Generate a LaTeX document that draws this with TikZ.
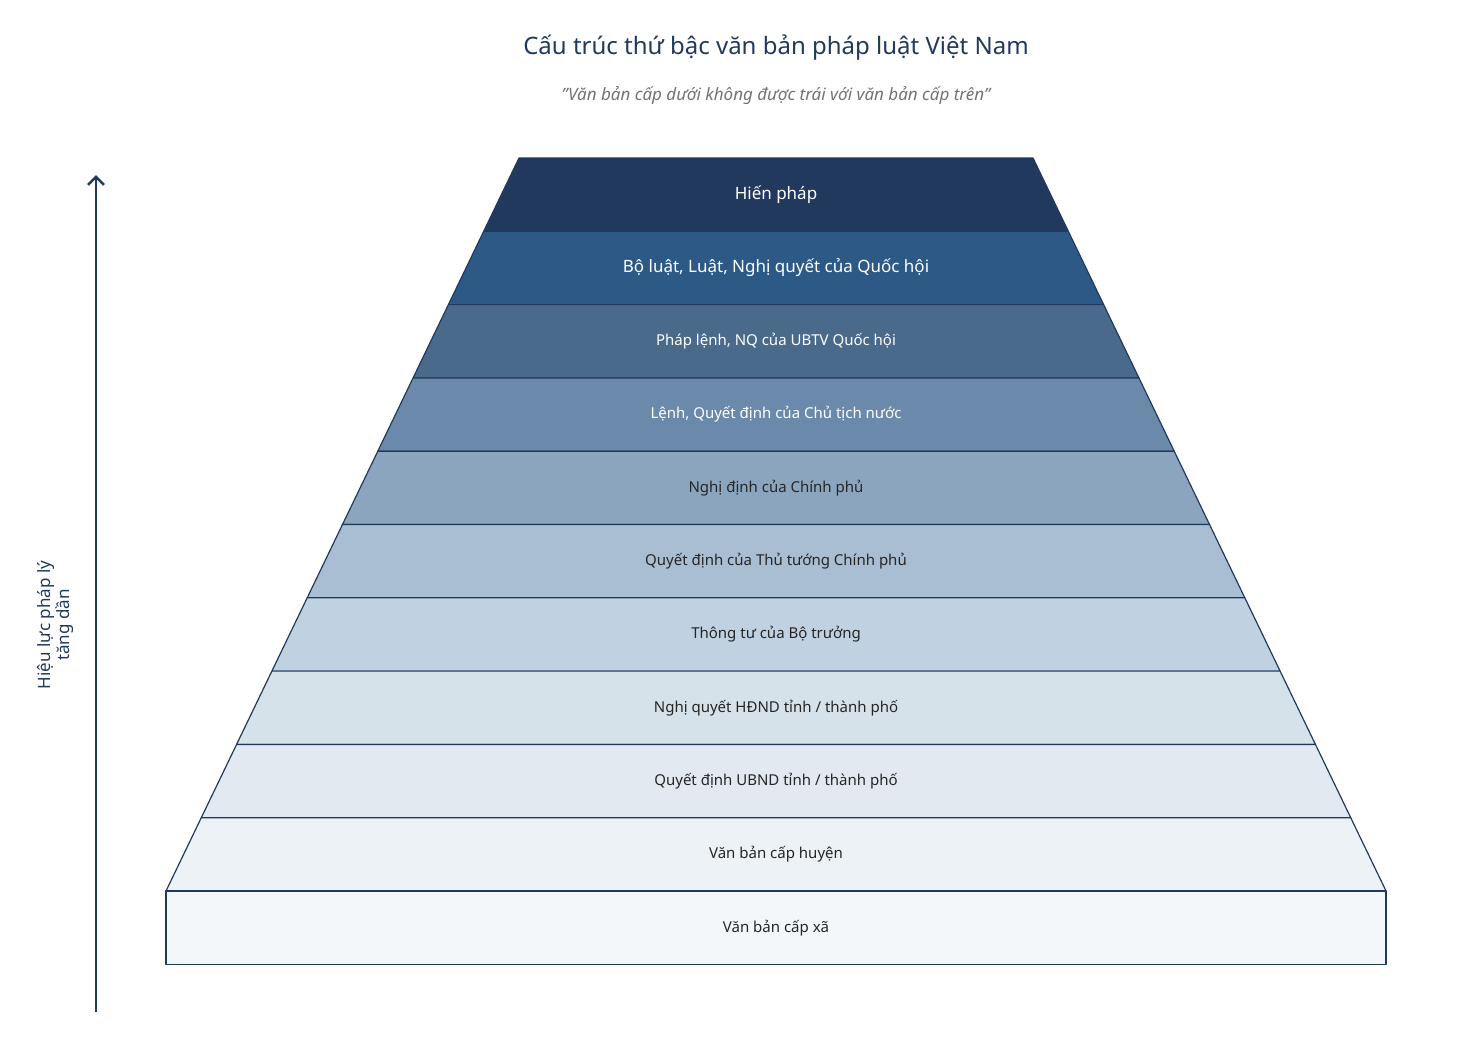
\documentclass[tikz,border=0pt]{standalone}
\usepackage{fontspec}
\setmainfont{Noto Sans}
\usetikzlibrary{arrows.meta}
\definecolor{navy}{HTML}{22395E}
\tikzset{
  layer/.style={draw=navy, line width=1.2pt, line join=round},
  lbl/.style={font=\fontsize{15}{18}\selectfont, text=#1},
  ttl/.style={font=\bfseries\fontsize{24}{28}\selectfont, text=navy},
}
\begin{document}
\begin{tikzpicture}[x=1pt,y=-1pt]
  \useasboundingbox (0,0) rectangle (1458,1044);
  \node[ttl] (title) at (776,48) {Cấu trúc thứ bậc văn bản pháp luật Việt Nam};
  \node[font=\itshape\fontsize{17}{20}\selectfont, text=black!55] (sub) at (776,96)
    {"Văn bản cấp dưới không được trái với văn bản cấp trên"};
  % layers, top to bottom
  \foreach \i/\fc/\tc/\txt in {
      0/22395E/white/{\bfseries\fontsize{17}{20}\selectfont Hiến pháp},
      1/2D5986/white/{\bfseries\fontsize{17}{20}\selectfont Bộ luật, Luật, Nghị quyết của Quốc hội},
      2/496A8B/white/{\bfseries Pháp lệnh, NQ của UBTV Quốc hội},
      3/6B8AAB/white/{\bfseries Lệnh, Quyết định của Chủ tịch nước},
      4/8BA5BF/black!85/{Nghị định của Chính phủ},
      5/A9BED3/black!85/{Quyết định của Thủ tướng Chính phủ},
      6/C0D2E2/black!85/{Thông tư của Bộ trưởng},
      7/D6E2EA/black!85/{Nghị quyết HĐND tỉnh / thành phố},
      8/E2E9F0/black!85/{Quyết định UBND tỉnh / thành phố},
      9/ECF2F5/black!85/{Văn bản cấp huyện},
      10/F4F7FA/black!85/{Văn bản cấp xã}} {
    \definecolor{fc}{HTML}{\fc}
    \pgfmathsetmacro{\yt}{158+73.3*\i}
    \pgfmathsetmacro{\yb}{158+73.3*(\i+1)}
    \pgfmathsetmacro{\dt}{0.4816*(min(\yt,891)-158)}
    \pgfmathsetmacro{\db}{0.4816*(min(\yb,891)-158)}
    \draw[layer, fill=fc] (519-\dt,\yt) -- (1033+\dt,\yt) -- (1033+\db,\yb) -- (519-\db,\yb) -- cycle;
    \node[lbl=\tc] (L\i) at (776,{(\yt+\yb)/2}) {\txt};
  }
  % axis
  \coordinate (low) at (96,1012);
  \coordinate (high) at (96,175);
  \draw[navy, line width=2.5pt, -{Straight Barb[length=8pt,width=16pt]}] (low) -- (high);
  \node[rotate=90, align=center, text=navy, font=\bfseries\fontsize{17}{19}\selectfont] (axis) at (56,625)
    {Hiệu lực pháp lý\\tăng dần};
\end{tikzpicture}
\end{document}
